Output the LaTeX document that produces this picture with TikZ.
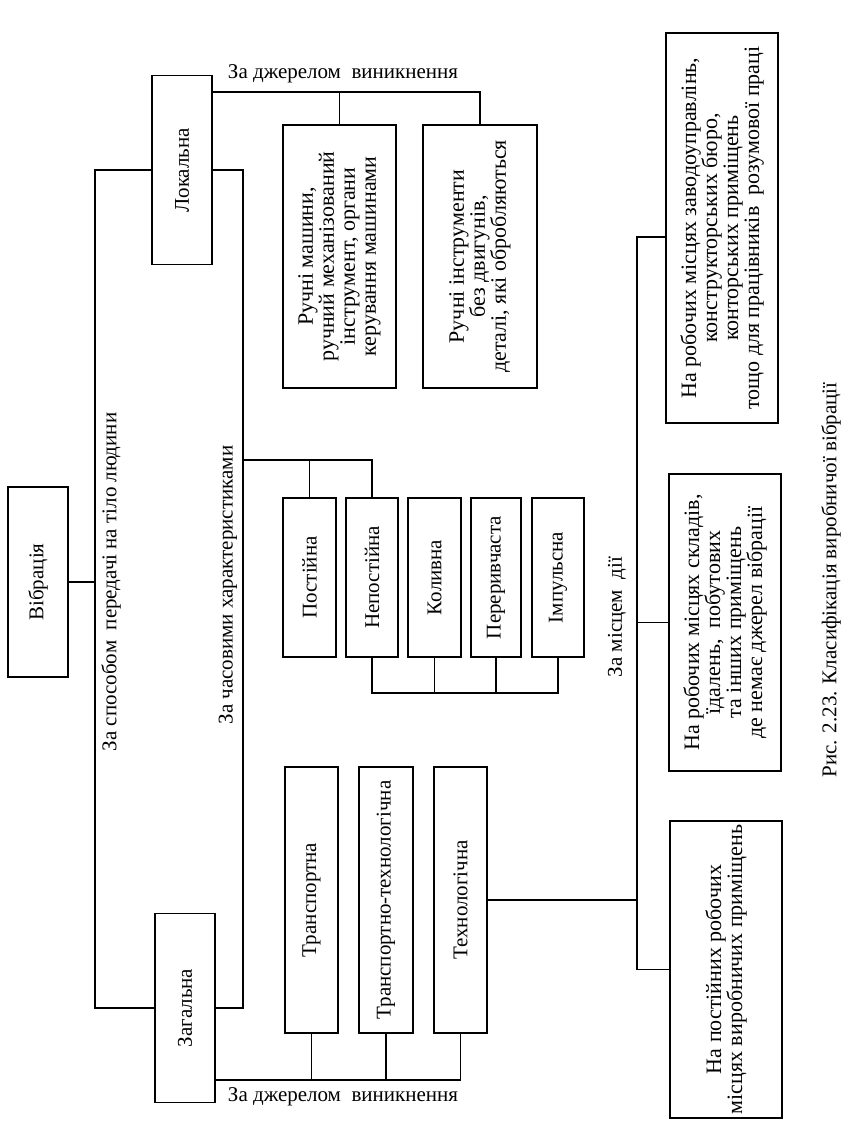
\documentclass[tikz,border=0pt]{standalone}
\usepackage{fontspec}
\setmainfont{Liberation Serif}
\begin{document}
\begin{tikzpicture}[x=1pt,y=-1pt,line width=1.5pt,
  box/.style={draw,rotate=90,inner sep=0pt,align=center,
    font=\fontsize{21}{22}\selectfont},
  mbox/.style={box,font=\fontsize{22}{21}\selectfont},
  lbl/.style={inner sep=0pt,font=\fontsize{21}{22}\selectfont}]
\useasboundingbox[fill=white] (0,0) rectangle (854,1137);
% main boxes
\node[box,minimum width=190pt,minimum height=60pt] (vib) at (38,582) {Вібрація};
\node[box,minimum width=189pt,minimum height=60pt] (loc) at (182,170) {Локальна};
\node[box,minimum width=189pt,minimum height=60pt] (zag) at (185,1008) {Загальна};
% local sources
\node[mbox,minimum width=263pt,minimum height=113pt] (rm) at (339.5,256.5)
  {Ручні машини,\\ручний механізований\\інструмент, органи\\керування машинами};
\node[mbox,minimum width=263pt,minimum height=114pt] (ri) at (480,256.5)
  {Ручні інструменти\\без двигунів,\\деталі, які обробляються};
% time characteristics
\node[box,minimum width=159pt,minimum height=53pt] (post) at (309.5,577.5) {Постійна};
\node[box,minimum width=159pt,minimum height=52pt] (nepost) at (372,577.5) {Непостійна};
\node[box,minimum width=159pt,minimum height=53pt] (kol) at (434.5,577.5) {Коливна};
\node[box,minimum width=159pt,minimum height=50pt] (per) at (496,577.5) {Переривчаста};
\node[box,minimum width=159pt,minimum height=52pt] (imp) at (558,577.5) {Імпульсна};
% general sources
\node[box,minimum width=266pt,minimum height=53pt] (tr) at (311.5,900) {Транспортна};
\node[box,minimum width=266pt,minimum height=54pt] (trt) at (386,900) {Транспортно-технологічна};
\node[box,minimum width=266pt,minimum height=53pt] (tech) at (460.5,900) {Технологічна};
% place of action
\node[mbox,minimum width=390pt,minimum height=112pt] (boxA) at (722,228)
  {На робочих місцях заводоуправлінь,\\конструкторських бюро,\\конторських приміщень\\тощо для працівників\ \ розумової праці};
\node[mbox,minimum width=297pt,minimum height=112pt] (boxB) at (725,622.5)
  {На робочих місцях складів,\\їдалень,\ \ побутових\\та інших приміщень\\де немає джерел вібрації};
\node[mbox,minimum width=297pt,minimum height=112pt] (boxC) at (726,969.5)
  {На постійних робочих\\місцях виробничих приміщень};
% labels
\node[lbl,rotate=90] (l1) at (111,582) {За способом\ \ передачі на тіло людини};
\node[lbl,rotate=90] (l2) at (228,585) {За часовими характеристиками};
\node[lbl] (l3) at (343,74) {За джерелом\ \ виникнення};
\node[lbl] (l4) at (343,1097) {За джерелом\ \ виникнення};
\node[lbl,rotate=90] (l5) at (617,617) {За місцем\ \ дії};
\node[lbl,rotate=90] (cap) at (831,580) {Рис. 2.23. Класифікація виробничої вібрації};
% helper coordinates
\coordinate (Lx) at (95,0);
\coordinate (Rx) at (243,0);
\coordinate (T) at (243,460);
\coordinate (B) at (0,693);
\coordinate (S1) at (0,92);
\coordinate (S2) at (0,1080);
\coordinate (Mx) at (637,0);
% connectors
\draw (vib.south) -- (vib.south -| Lx);
\draw (loc.north) -| (zag.north -| Lx) -- (zag.north);
\draw (loc.south) -| (zag.south -| Rx) -- (zag.south);
\draw (T) -| (nepost.east);
\draw (post.east) -- (post.east |- T);
\draw (nepost.west) -- (nepost.west |- B) -- (imp.west |- B) -- (imp.west);
\draw (kol.west) -- (kol.west |- B);
\draw (per.west) -- (per.west |- B);
\draw (loc.south |- S1) -- (ri.east |- S1) -- (ri.east);
\draw (rm.east) -- (rm.east |- S1);
\draw (zag.south |- S2) -- (tech.west |- S2) -- (tech.west);
\draw (tr.west) -- (tr.west |- S2);
\draw (trt.west) -- (trt.west |- S2);
\draw (tech.south) -- (tech.south -| Mx);
\draw ([yshift=-9pt]boxA.north) -| (boxC.north -| Mx) -- (boxC.north);
\draw (boxB.north) -- (boxB.north -| Mx);
\end{tikzpicture}
\end{document}
